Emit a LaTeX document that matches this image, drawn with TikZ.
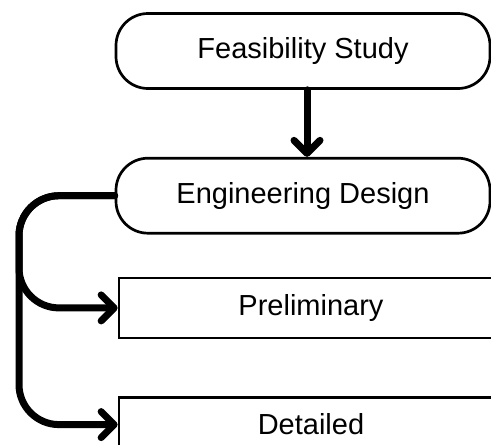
\documentclass[tikz,border=0pt]{standalone}
\usepackage{fontspec}
\setmainfont{Liberation Sans}
\usetikzlibrary{arrows.meta}
\usetikzlibrary{positioning}
\tikzset{stage/.style = {draw, line width=2.7pt, rounded corners=32pt,
                         minimum width=374pt, minimum height=75pt,
                         font=\fontsize{29}{34}\selectfont}}
\tikzset{phase/.style = {draw, line width=2.7pt,
                         minimum width=384pt, minimum height=60pt,
                         font=\fontsize{29}{34}\selectfont}}
\tikzset{flow/.style = {line width=7pt, line cap=round,
                        -{Straight Barb[length=13pt,width=26pt,round]}}}

\begin{document}
\begin{tikzpicture}[x=1pt, y=-1pt]
    \useasboundingbox (0,0) rectangle (491,445);
    \clip (0,0) rectangle (491,445);
    \node (feas) [stage] at (303,51) {Feasibility Study};
    \node (eng) [stage, below=67pt of feas] {Engineering Design};
    \node (prelim) [phase, below right=42pt and 3pt of eng.south west] {Preliminary};
    \node (det) [phase, minimum height=54pt, below=57pt of prelim] {Detailed};
    \coordinate (rail) at (19,0);
    \draw [flow] ([xshift=4pt]feas.south) -- ([xshift=4pt]eng.north);
    \draw [flow, rounded corners=40pt] (eng.west) -| (rail |- prelim.west) -- (prelim.west);
    \draw [flow, rounded corners=40pt] (eng.west) -| (rail |- det.west) -- (det.west);
\end{tikzpicture}
\end{document}
